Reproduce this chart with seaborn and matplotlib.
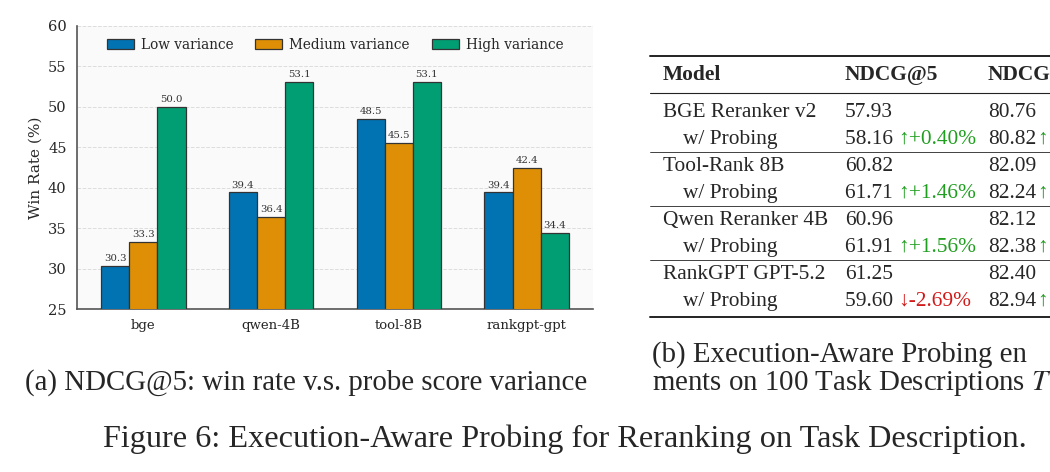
import matplotlib
matplotlib.use("Agg")
import matplotlib.pyplot as plt
from matplotlib.lines import Line2D
import pandas as pd
import seaborn as sns

# chart data
models = ["bge", "qwen-4B", "tool-8B", "rankgpt-gpt"]
variance_levels = ["Low variance", "Medium variance", "High variance"]
low_var = [30.3, 39.4, 48.5, 39.4]
medium_var = [33.3, 36.4, 45.5, 42.4]
high_var = [50.0, 53.1, 53.1, 34.4]

# table data (right part of the table is cut off in the figure)
table_models = ["BGE Reranker v2", "Tool-Rank 8B", "Qwen Reranker 4B", "RankGPT GPT-5.2"]
ndcg5_base = ["57.93", "60.82", "60.96", "61.25"]
ndcg5_probe = ["58.16", "61.71", "61.91", "59.60"]
ndcg5_delta = ["+0.40%", "+1.46%", "+1.56%", "-2.69%"]
ndcg10_base = ["80.76", "82.09", "82.12", "82.40"]
ndcg10_probe = ["80.82", "82.24", "82.38", "82.94"]

df = pd.DataFrame({
    "model": models * 3,
    "level": [v for v in variance_levels for _ in models],
    "win": low_var + medium_var + high_var,
})

sns.set_style("white")
plt.rcParams["font.family"] = ["DejaVu Serif"]

W, H = 1050, 472
fig = plt.figure(figsize=(W / 100, H / 100), dpi=100)

def fx(px):
    return px / W

def fy(py):
    return 1 - py / H

# ---- bar chart ----
ax = fig.add_axes([fx(77), fy(309), fx(593 - 77), (309 - 25.7) / H])
ax.set_facecolor("#fafafa")
sns.barplot(data=df, x="model", y="win", hue="level", order=models,
            hue_order=variance_levels, palette="colorblind", width=0.66,
            edgecolor="#333333", linewidth=0.9, saturation=1, ax=ax, zorder=3)
for c in ax.containers:
    ax.bar_label(c, fmt="%.1f", padding=2, fontsize=7.3, color="#333333")

ax.set_ylim(25, 60)
ax.set_xlim(-0.52, 3.52)
ax.set_yticks(range(25, 61, 5))
ax.grid(axis="y", linestyle="--", color="#dddddd", linewidth=0.7, zorder=0)
ax.set_axisbelow(True)
for s in ["top", "right"]:
    ax.spines[s].set_visible(False)
for s in ["left", "bottom"]:
    ax.spines[s].set_color("#555555")
    ax.spines[s].set_linewidth(1.2)
ax.tick_params(axis="both", labelsize=10.5, length=4, color="#333333", width=1)
ax.tick_params(axis="x", labelsize=9.5)
ax.set_xlabel("")
ax.set_ylabel("Win Rate (%)", fontsize=11)
ax.legend(ncol=3, loc="upper center", frameon=False, fontsize=9.8,
          handlelength=2.0, handleheight=0.75, columnspacing=1.6,
          borderaxespad=0.5, handletextpad=0.5)

# ---- table ----
serif = ["Liberation Serif", "DejaVu Serif"]
renderer = fig.canvas.get_renderer()

def fit(t, target_px):
    w = t.get_window_extent(renderer).width
    t.set_fontsize(t.get_fontsize() * target_px / w)
    return t.get_fontsize()

probe = fig.text(fx(663), fy(117), table_models[0], family=serif, fontsize=14)
tsize = fit(probe, 154)

def rule(y, lw):
    fig.add_artist(Line2D([fx(650), 1.0], [fy(y), fy(y)], color="#222222",
                          linewidth=lw, transform=fig.transFigure))

rule(56, 1.4)
rule(93, 0.8)
rule(317, 1.4)
for y in [152, 206, 260]:
    rule(y, 0.6)

hy = 80
fig.text(fx(663), fy(hy), "Model", family=serif, fontsize=tsize, fontweight="bold")
fig.text(fx(845), fy(hy), "NDCG@5", family=serif, fontsize=tsize, fontweight="bold")
fig.text(fx(988), fy(hy), "NDCG", family=serif, fontsize=tsize, fontweight="bold")

green, red = "#1f9e1f", "#d11a1a"
for i, name in enumerate(table_models):
    y1 = 117 + 54 * i
    y2 = y1 + 27
    if i > 0:
        fig.text(fx(663), fy(y1), name, family=serif, fontsize=tsize)
    fig.text(fx(683), fy(y2), "w/ Probing", family=serif, fontsize=tsize)
    fig.text(fx(845), fy(y1), ndcg5_base[i], family=serif, fontsize=tsize)
    fig.text(fx(988), fy(y1), ndcg10_base[i], family=serif, fontsize=tsize)
    t = fig.text(fx(845), fy(y2), ndcg5_probe[i] + " ", family=serif, fontsize=tsize)
    x = fx(845) + t.get_window_extent(renderer).width / W
    up = not ndcg5_delta[i].startswith("-")
    fig.text(x, fy(y2), ("\u2191" if up else "\u2193") + ndcg5_delta[i],
             family=serif, fontsize=tsize, color=green if up else red)
    t = fig.text(fx(988), fy(y2), ndcg10_probe[i], family=serif, fontsize=tsize)
    x = fx(988) + (t.get_window_extent(renderer).width + 1) / W
    fig.text(x, fy(y2), "\u2191", family=serif, fontsize=tsize, color=green)

# ---- captions ----
ca = fig.text(fx(25), fy(390), "(a) NDCG@5: win rate v.s. probe score variance",
              family=serif, fontsize=20)
csize = fit(ca, 563)
fig.text(fx(652), fy(362), "(b) Execution-Aware Probing en",
         family=serif, fontsize=csize)
fig.text(fx(652), fy(390), "ments on 100 Task Descriptions $T$",
         family=serif, fontsize=csize, math_fontfamily="stix")
cf = fig.text(fx(103), fy(447),
              "Figure 6: Execution-Aware Probing for Reranking on Task Description.",
              family=serif, fontsize=csize)
fit(cf, 924)

fig.savefig("out.png", dpi=100)
